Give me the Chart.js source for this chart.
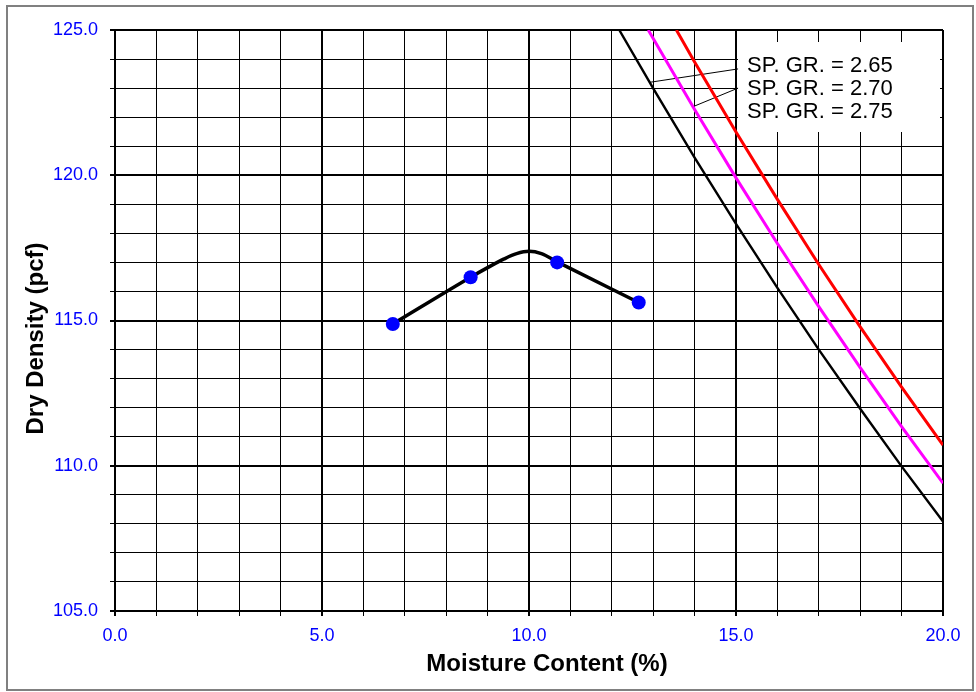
<!DOCTYPE html>
<html><head><meta charset="utf-8">
<script src="https://cdn.jsdelivr.net/npm/chart.js@4.4.0/dist/chart.umd.min.js"></script>
<style>
html,body{margin:0;padding:0;background:#fff;}
#wrap{position:relative;width:976px;height:692px;overflow:hidden;}
#frame{position:absolute;left:6px;top:5px;width:968px;height:686px;border:2px solid #808080;box-sizing:border-box;pointer-events:none;}
canvas{position:absolute;left:0;top:0;}
</style></head><body>
<div id="wrap"><canvas id="c" width="976" height="692"></canvas><div id="frame"></div></div>
<script>
// ---- data ----
const testMoisture = [6.71, 8.59, 10.68, 12.65];
const testDensity  = [114.88, 116.49, 117.0, 115.62];

const curveMoisture = [6.71, 8.59, 9.0, 9.4, 9.7, 10.0, 10.3, 10.68, 12.65];
const curveDensity  = [114.88, 116.49, 116.82, 117.12, 117.30, 117.38, 117.30, 117.02, 115.62];

const zavMoisture265 = [12.18, 13, 14, 15, 16, 17, 18, 19, 20];
const zavDensity265  = [125.0, 122.99, 120.61, 118.33, 116.12, 114.0, 111.96, 109.98, 108.08];
const zavMoisture270 = [12.88, 13, 14, 15, 16, 17, 18, 19, 20];
const zavDensity270  = [125.0, 124.71, 122.26, 119.91, 117.65, 115.48, 113.38, 111.35, 109.40];
const zavMoisture275 = [13.56, 14, 15, 16, 17, 18, 19, 20];
const zavDensity275  = [125.0, 123.90, 121.49, 119.17, 116.93, 114.78, 112.71, 110.71];

const leaderMoisture265 = [12.92, 15.05];
const leaderDensity265  = [123.2, 123.66];
const leaderMoisture270 = [13.96, 15.05];
const leaderDensity270  = [122.36, 123.0];

const legendLabels = ['SP. GR. = 2.65', 'SP. GR. = 2.70', 'SP. GR. = 2.75'];
const xTitle = 'Moisture Content (%)';
const yTitle = 'Dry Density (pcf)';
const xMin = 0, xMax = 20, yMin = 105, yMax = 125, majorStep = 5, minorStep = 1;

const FAMILY = "Arial, 'Liberation Sans', sans-serif";
const pts = (xs, ys) => xs.map((x, i) => ({x: x, y: ys[i]}));
const isMajor = v => Math.abs(v % majorStep) < 1e-6;

const legendBox = {
  id: 'legendBox',
  beforeDatasetsDraw(chart) {
    const ctx = chart.ctx, a = chart.chartArea;
    const left = a.right - 205, top = a.top + 12, w = 202, h = 90;
    ctx.save();
    ctx.fillStyle = '#ffffff';
    ctx.fillRect(left, top, w, h);
    ctx.fillStyle = '#000000';
    ctx.font = "22px " + FAMILY;
    ctx.textBaseline = 'middle';
    ctx.textAlign = 'left';
    legendLabels.forEach((t, i) => ctx.fillText(t, left + 9, top + 24 + i * 23));
    ctx.restore();
  }
};

const axisTitles = {
  id: 'axisTitles',
  afterDraw(chart) {
    const ctx = chart.ctx, a = chart.chartArea;
    ctx.save();
    ctx.fillStyle = '#000000';
    ctx.font = "bold 24px " + FAMILY;
    ctx.textAlign = 'center';
    ctx.textBaseline = 'middle';
    ctx.fillText(xTitle, (a.left + a.right) / 2 + 18, a.bottom + 53);
    ctx.translate(36, (a.top + a.bottom) / 2 + 18);
    ctx.rotate(-Math.PI / 2);
    ctx.fillText(yTitle, 0, 0);
    ctx.restore();
  }
};

const lineDs = (data, color, width) => ({
  data: data, showLine: true, borderColor: color, backgroundColor: color,
  borderWidth: width, pointRadius: 0, fill: false, tension: 0
});

new Chart(document.getElementById('c'), {
  type: 'scatter',
  data: {
    datasets: [
      { data: pts(testMoisture, testDensity), pointRadius: 7, pointBackgroundColor: '#0000FF',
        pointBorderColor: '#0000FF', pointBorderWidth: 0, showLine: false },
      Object.assign(lineDs(pts(curveMoisture, curveDensity), '#000000', 3.5), { cubicInterpolationMode: 'monotone' }),
      lineDs(pts(zavMoisture265, zavDensity265), '#000000', 2.4),
      lineDs(pts(zavMoisture270, zavDensity270), '#FF00FF', 3),
      lineDs(pts(zavMoisture275, zavDensity275), '#FF0000', 3),
      lineDs(pts(leaderMoisture265, leaderDensity265), '#000000', 1),
      lineDs(pts(leaderMoisture270, leaderDensity270), '#000000', 1)
    ]
  },
  options: {
    responsive: false, animation: false, devicePixelRatio: 1,
    layout: { padding: { top: 30, right: 33, left: 0, bottom: 0 } },
    plugins: { legend: { display: false }, tooltip: { enabled: false } },
    scales: {
      x: {
        type: 'linear', min: xMin, max: xMax,
        ticks: { stepSize: minorStep, autoSkip: false, maxRotation: 0, color: '#0000FF',
                 font: { size: 18, family: FAMILY }, padding: 9,
                 callback: v => isMajor(v) ? v.toFixed(1) : '' },
        grid: { color: '#000000', lineWidth: c => (c.tick && isMajor(c.tick.value)) ? 2 : 1, tickLength: 5 },
        border: { color: '#000000', width: 2 },
        afterFit: s => { s.height = 81; }
      },
      y: {
        type: 'linear', min: yMin, max: yMax,
        ticks: { stepSize: minorStep, autoSkip: false, color: '#0000FF',
                 font: { size: 18, family: FAMILY }, padding: 12,
                 callback: v => isMajor(v) ? v.toFixed(1) : '' },
        grid: { color: '#000000', lineWidth: c => (c.tick && isMajor(c.tick.value)) ? 2 : 1, tickLength: 5 },
        border: { color: '#000000', width: 2 },
        afterFit: s => { s.width = 115; }
      }
    }
  },
  plugins: [legendBox, axisTitles]
});
</script>
</body></html>
